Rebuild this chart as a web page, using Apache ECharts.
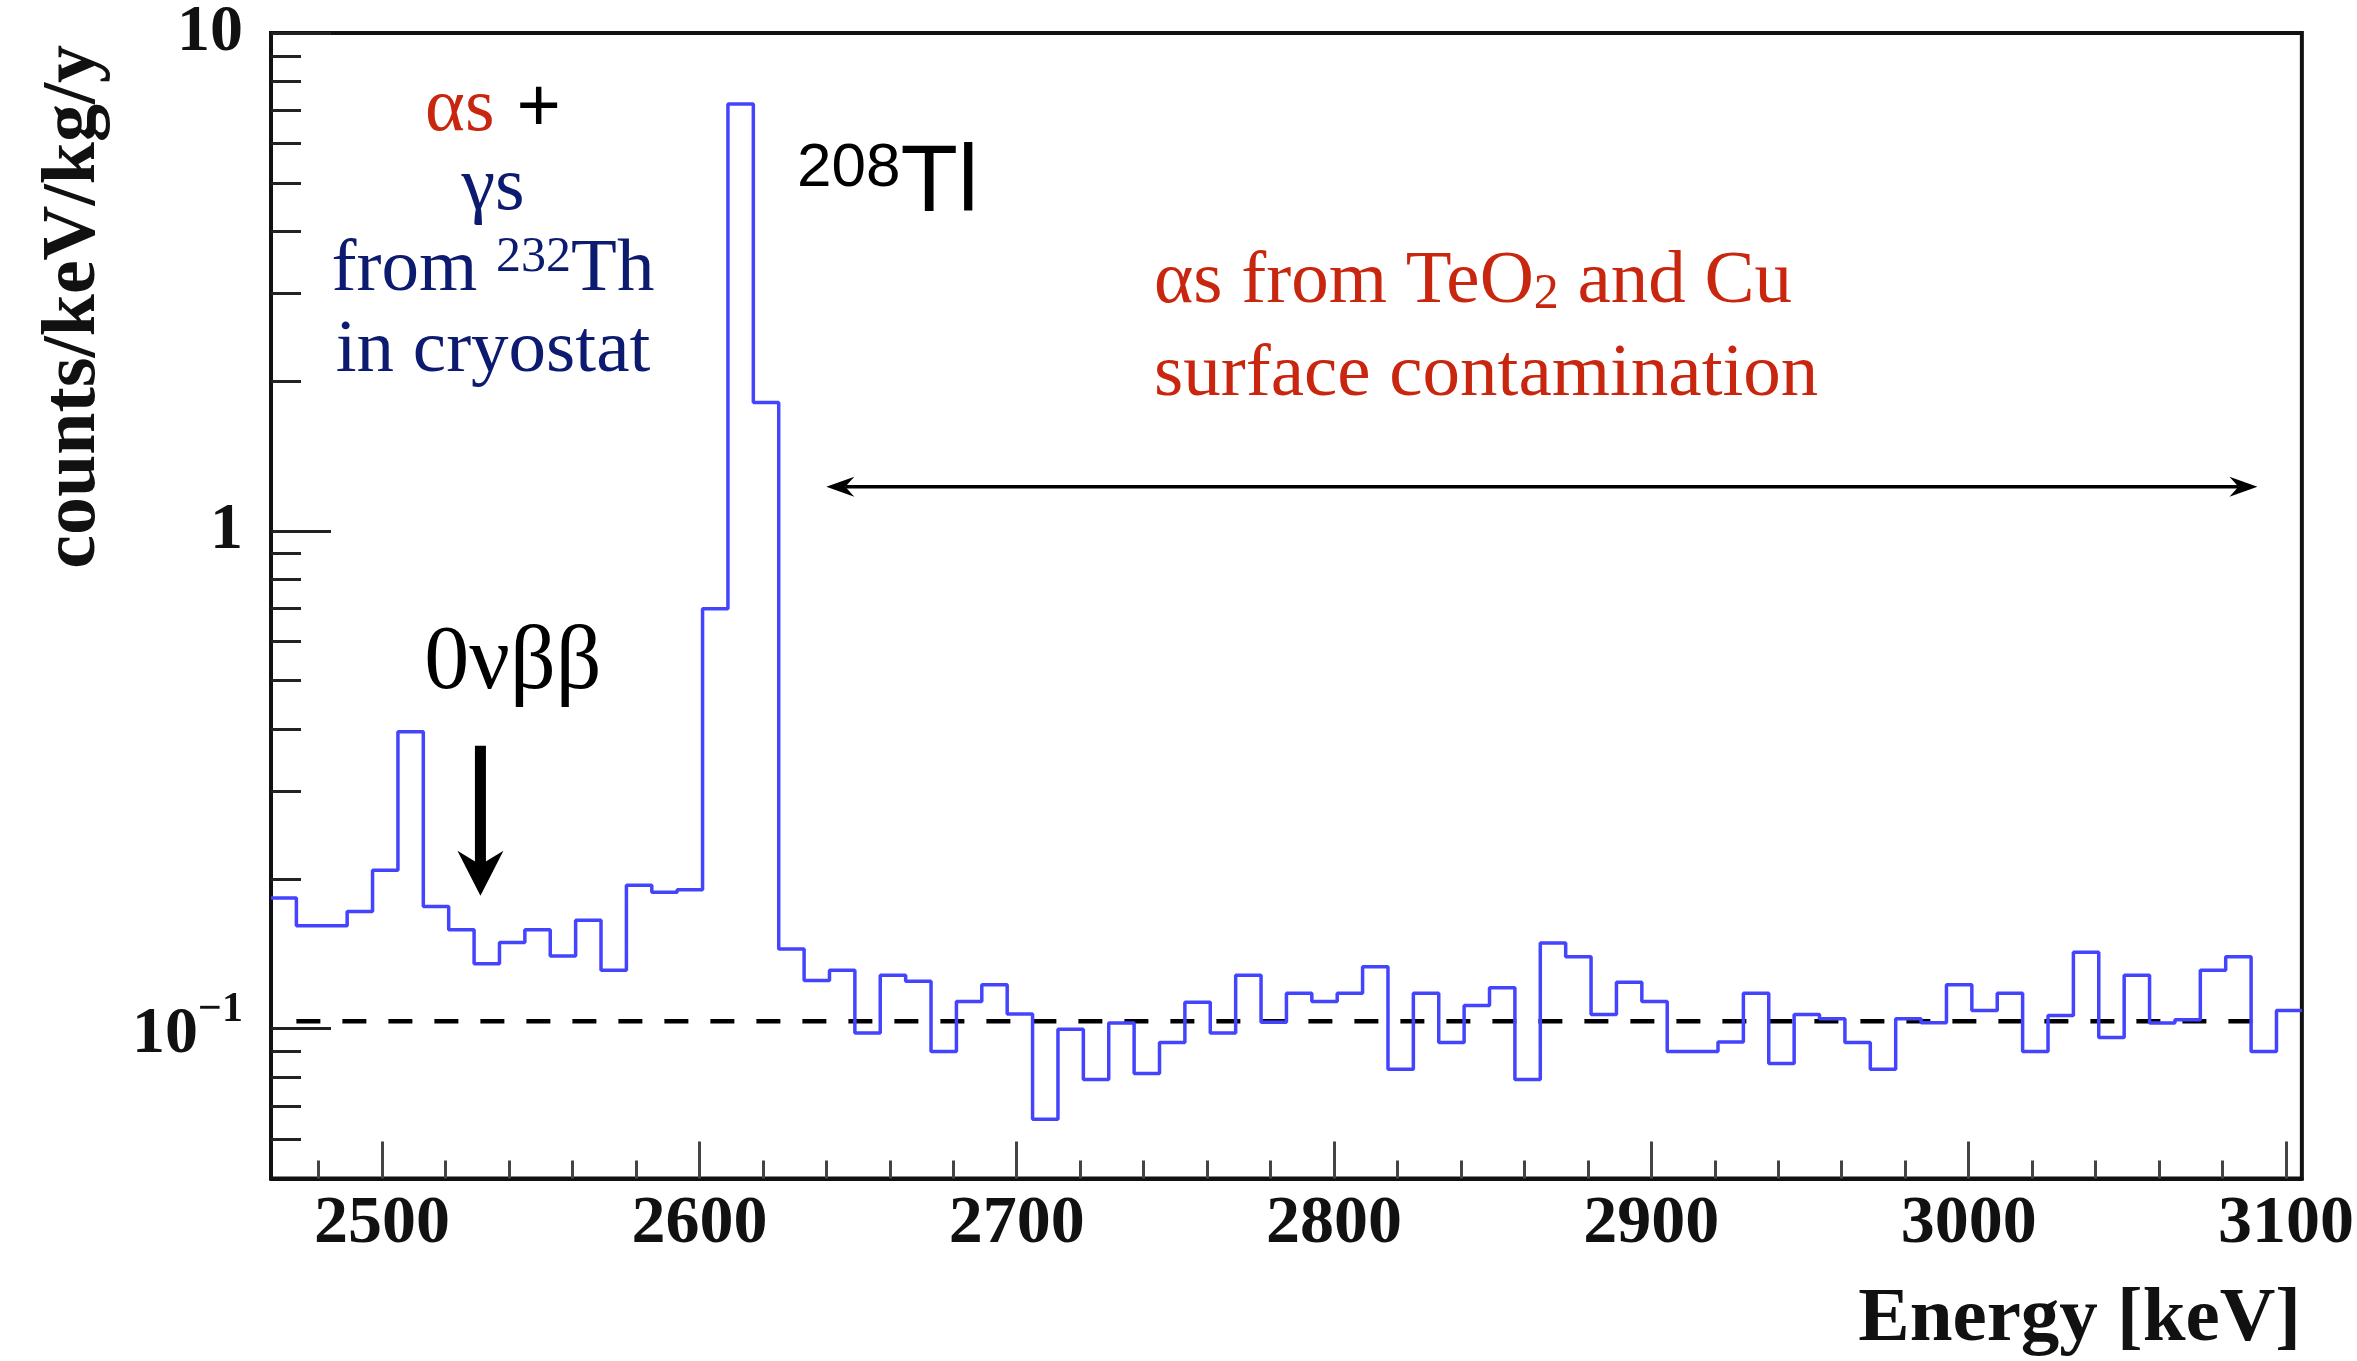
<!DOCTYPE html>
<html><head><meta charset="utf-8">
<script src="https://cdn.jsdelivr.net/npm/echarts@6/dist/echarts.min.js"></script>
<style>html,body{margin:0;padding:0;background:#fff}#c{width:2357px;height:1361px}</style>
</head><body><div id="c"></div>
<script>
// ---- data ----
const binLow = 2465;      // keV, left edge of first bin
const binWidth = 8;       // keV
const counts = [
  0.183, 0.161, 0.161, 0.172, 0.208, 0.395, 0.176, 0.158, 0.135, 0.149,
  0.158, 0.140, 0.165, 0.131, 0.194, 0.188, 0.190, 0.697, 7.20, 1.81,
  0.1445, 0.125, 0.131, 0.098, 0.128, 0.1245, 0.090, 0.1134, 0.1225, 0.107,
  0.0658, 0.0997, 0.079, 0.1026, 0.0813, 0.0938, 0.113, 0.098, 0.128, 0.103,
  0.1178, 0.1134, 0.1178, 0.1332, 0.0829, 0.1178, 0.0938, 0.1113, 0.1208, 0.079,
  0.1486, 0.1395, 0.1068, 0.124, 0.1134, 0.090, 0.090, 0.094, 0.1178, 0.0851,
  0.1068, 0.1047, 0.0938, 0.0829, 0.1047, 0.1028, 0.1225, 0.1088, 0.1178, 0.090,
  0.1063, 0.1423, 0.096, 0.128, 0.1026, 0.1042, 0.131, 0.1395, 0.090, 0.1088
];
const xRange = [2465, 3105];
const yRange = [0.05, 10];
const xMajorTicks = [2500, 2600, 2700, 2800, 2900, 3000, 3100];
const xMinorTicks = [2480, 2520, 2540, 2560, 2580, 2620, 2640, 2660, 2680, 2720, 2740, 2760, 2780,
  2820, 2840, 2860, 2880, 2920, 2940, 2960, 2980, 3020, 3040, 3060, 3080];
const yMajorTicks = [0.1, 1, 10];
const yMinorTicks = [0.06, 0.07, 0.08, 0.09, 0.2, 0.3, 0.4, 0.5, 0.6, 0.7, 0.8, 0.9,
  2, 3, 4, 5, 6, 7, 8, 9];
const bgLevel = 0.1035;            // flat alpha background level
const bgRange = [2473, 3096];
const qbbArrow = { x: 2531, from: 0.37, to: 0.185 };       // 0νββ marker
const alphaRegion = { from: 2640, to: 3091, y: 1.226 };    // double arrow

// ---- build ----
const histPoints = counts.map((v, i) => [binLow + i * binWidth, v]);
histPoints.push([binLow + counts.length * binWidth, counts[counts.length - 1]]);

const SERIF = "'Liberation Serif','Times New Roman',serif";
const SANS = "'Liberation Sans',Arial,sans-serif";
const RED = '#c8260f';
const NAVY = '#0c1a70';

const chart = echarts.init(document.getElementById('c'), null, { renderer: 'canvas' });

function yLabel(v) {
  if (v > 5) return '10';
  if (v > 0.5) return '1';
  return '{b|10}{s|−1}';
}

const option = {
  backgroundColor: '#ffffff',
  animation: false,
  grid: { left: 271, right: 54, top: 28, bottom: 182.5, show: true, borderColor: '#111', borderWidth: 4 },
  xAxis: [
    {
      type: 'value', min: xRange[0], max: xRange[1], position: 'bottom',
      axisLine: { show: true, onZero: false, lineStyle: { color: '#111', width: 4 } },
      axisTick: { show: true, inside: true, length: 37, customValues: xMajorTicks, lineStyle: { color: '#444', width: 3 } },
      axisLabel: { customValues: xMajorTicks, formatter: v => String(v), fontFamily: SERIF, fontWeight: 'bold', fontSize: 68, color: '#111', margin: 12 },
      splitLine: { show: false }
    },
    {
      type: 'value', min: xRange[0], max: xRange[1], position: 'bottom',
      axisLine: { show: false, onZero: false },
      axisTick: { show: true, inside: true, length: 18, customValues: xMinorTicks, lineStyle: { color: '#444', width: 3 } },
      axisLabel: { show: false },
      splitLine: { show: false }
    }
  ],
  yAxis: [
    {
      type: 'log', logBase: 10, min: yRange[0], max: yRange[1], position: 'left',
      axisLine: { show: true, onZero: false, lineStyle: { color: '#111', width: 4 } },
      axisTick: { show: true, inside: true, length: 60, customValues: yMajorTicks, lineStyle: { color: '#222', width: 3 } },
      axisLabel: {
        customValues: yMajorTicks, formatter: yLabel, margin: 28, color: '#111',
        fontFamily: SERIF, fontWeight: 'bold', fontSize: 66,
        rich: {
          b: { fontFamily: SERIF, fontWeight: 'bold', fontSize: 66, color: '#111', padding: [12, 0, 0, 0] },
          s: { fontFamily: SERIF, fontWeight: 'bold', fontSize: 42, color: '#111', verticalAlign: 'top' }
        }
      },
      splitLine: { show: false }
    },
    {
      type: 'log', logBase: 10, min: yRange[0], max: yRange[1], position: 'left',
      axisLine: { show: false, onZero: false },
      axisTick: { show: true, inside: true, length: 30, customValues: yMinorTicks, lineStyle: { color: '#222', width: 3 } },
      axisLabel: { show: false },
      splitLine: { show: false }
    }
  ],
  series: [
    {
      name: 'spectrum', type: 'line', step: 'end', data: histPoints,
      xAxisIndex: 0, yAxisIndex: 0,
      symbol: 'none', clip: true, z: 4,
      lineStyle: { color: '#4444ff', width: 3.5 }
    },
    {
      name: 'background', type: 'line',
      data: [[bgRange[0], bgLevel], [bgRange[1], bgLevel]],
      xAxisIndex: 0, yAxisIndex: 0,
      symbol: 'none', z: 3,
      lineStyle: { color: '#000', width: 4.5, type: [24, 22] }
    },
    {
      name: 'arrows', type: 'custom', xAxisIndex: 0, yAxisIndex: 0, z: 5,
      data: [[2800, 1]],
      renderItem: function (params, api) {
        const a = api.coord([qbbArrow.x, qbbArrow.from]);
        const b = api.coord([qbbArrow.x, qbbArrow.to]);
        const hl = 45, hw = 23, notch = 31, sw = 11;
        const l = api.coord([alphaRegion.from, alphaRegion.y]);
        const r = api.coord([alphaRegion.to, alphaRegion.y]);
        const al = 28, aw = 10, an = 19;
        return {
          type: 'group',
          children: [
            { type: 'rect', shape: { x: a[0] - sw / 2, y: a[1], width: sw, height: (b[1] - notch) - a[1] + 2 }, style: { fill: '#000' } },
            { type: 'polygon', shape: { points: [[b[0], b[1]], [b[0] + hw, b[1] - hl], [b[0], b[1] - notch], [b[0] - hw, b[1] - hl]] }, style: { fill: '#000' } },
            { type: 'line', shape: { x1: l[0] + an, y1: l[1], x2: r[0] - an, y2: r[1] }, style: { stroke: '#000', lineWidth: 3.5 } },
            { type: 'polygon', shape: { points: [[l[0], l[1]], [l[0] + al, l[1] - aw], [l[0] + an, l[1]], [l[0] + al, l[1] + aw]] }, style: { fill: '#000' } },
            { type: 'polygon', shape: { points: [[r[0], r[1]], [r[0] - al, r[1] - aw], [r[0] - an, r[1]], [r[0] - al, r[1] + aw]] }, style: { fill: '#000' } }
          ]
        };
      }
    }
  ],
  graphic: [
    { type: 'text', x: 493, y: 110, style: { text: '{r|αs}{g| }{k|+}', align: 'center', verticalAlign: 'middle',
        rich: { r: { fontFamily: SERIF, fontSize: 76, fill: RED }, g: { fontFamily: SERIF, fontSize: 76, width: 22 }, k: { fontFamily: SANS, fontSize: 76, fill: '#000' } } } },
    { type: 'text', x: 493, y: 189, style: { text: 'γs', align: 'center', verticalAlign: 'middle', fontFamily: SERIF, fontSize: 76, fill: NAVY } },
    { type: 'text', x: 493, y: 270, style: { text: '{n|from }{s|232}{n|Th}', align: 'center', verticalAlign: 'middle',
        rich: { n: { fontFamily: SERIF, fontSize: 75, fill: NAVY }, s: { fontFamily: SERIF, fontSize: 50, fill: NAVY, verticalAlign: 'top' } } } },
    { type: 'text', x: 493, y: 351, style: { text: 'in cryostat', align: 'center', verticalAlign: 'middle', fontFamily: SERIF, fontSize: 75, fill: NAVY } },
    { type: 'text', x: 797, y: 185, style: { text: '{s|208}{t|Tl}', align: 'left', verticalAlign: 'middle',
        rich: { t: { fontFamily: SANS, fontSize: 94, fill: '#000' }, s: { fontFamily: SANS, fontSize: 62, fill: '#000', verticalAlign: 'top' } } } },
    { type: 'text', x: 1154, y: 282, style: { text: '{n|αs from TeO}{d|2}{n| and Cu}', align: 'left', verticalAlign: 'middle',
        rich: { n: { fontFamily: SERIF, fontSize: 75, fill: RED }, d: { fontFamily: SERIF, fontSize: 50, fill: RED, verticalAlign: 'bottom' } } } },
    { type: 'text', x: 1154, y: 375, style: { text: 'surface contamination', align: 'left', verticalAlign: 'middle', fontFamily: SERIF, fontSize: 75, fill: RED } },
    { type: 'text', x: 513, y: 664, style: { text: '0νββ', align: 'center', verticalAlign: 'middle', fontFamily: SERIF, fontSize: 90, fill: '#000' } },
    { type: 'text', x: 2301, y: 1320, style: { text: 'Energy [keV]', align: 'right', verticalAlign: 'middle', fontFamily: SERIF, fontWeight: 'bold', fontSize: 77, fill: '#111' } },
    { type: 'text', x: 74, y: 45, rotation: Math.PI / 2, style: { text: 'counts/keV/kg/y', align: 'right', verticalAlign: 'middle', fontFamily: SERIF, fontWeight: 'bold', fontSize: 76, fill: '#111' } }
  ]
};
chart.setOption(option);
</script>
</body></html>
